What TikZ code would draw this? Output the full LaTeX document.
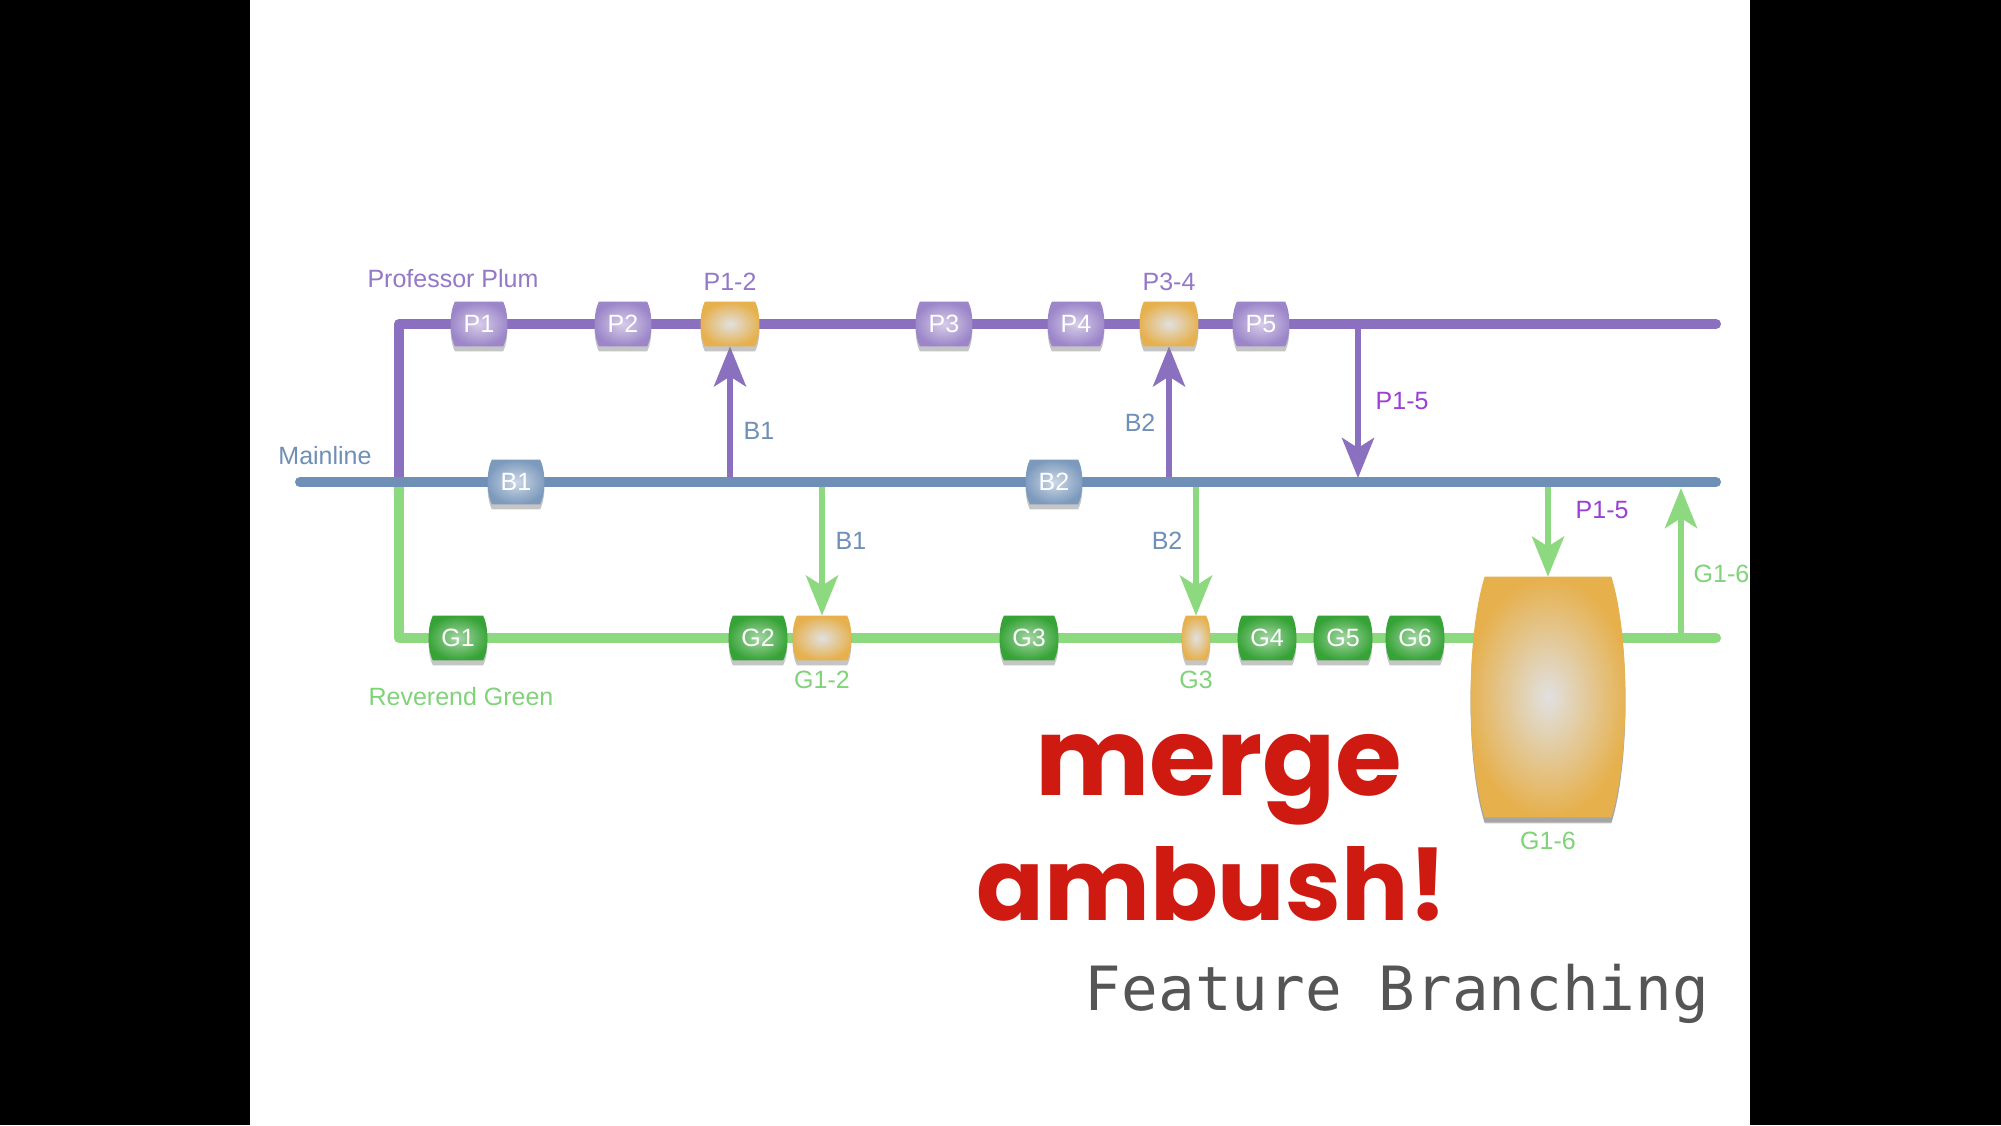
\documentclass[tikz,border=0pt]{standalone}
\usepackage{fontspec}
\setmainfont{Liberation Sans}
\newfontfamily\monofont{DejaVu Sans Mono}
\newfontfamily\chalkfont{Poppins}
\usetikzlibrary{arrows.meta,shadows,backgrounds}
\definecolor{cPlum}{HTML}{8A70BF}
\definecolor{cPlumLbl}{HTML}{9478C8}
\definecolor{cPlumMerge}{HTML}{9B3FD6}
\definecolor{cMain}{HTML}{6E8FB6}
\definecolor{cGreen}{HTML}{8DD97F}
\definecolor{cGreenLbl}{HTML}{80D378}
\definecolor{cGreenDark}{HTML}{36A336}
\definecolor{cOrange}{HTML}{E6B04C}
\definecolor{cChalk}{HTML}{CF1A12}
\definecolor{cCaption}{HTML}{555555}
\newcommand{\lblfont}{\fontsize{12.5}{14}\selectfont}
% barrel-shaped commit: flat top and bottom, sides bulging out
\newdimen\brlx \newdimen\brrx \newdimen\brby \newdimen\brty \newdimen\brb \newdimen\brh
\makeatletter
\pgfdeclareshape{barrel}{
  \inheritsavedanchors[from=rectangle]
  \inheritanchorborder[from=rectangle]
  \inheritanchor[from=rectangle]{center}
  \inheritanchor[from=rectangle]{north}
  \inheritanchor[from=rectangle]{south}
  \inheritanchor[from=rectangle]{east}
  \inheritanchor[from=rectangle]{west}
  \inheritanchor[from=rectangle]{text}
  \inheritanchor[from=rectangle]{base}
  \inheritanchor[from=rectangle]{mid}
  \backgroundpath{
    \southwest \brlx=\pgf@x \brby=\pgf@y
    \northeast \brrx=\pgf@x \brty=\pgf@y
    \brh=\brty \advance\brh by -\brby
    \brb=.05\brh \advance\brb by 1pt
    \pgfpathmoveto{\pgfpoint{\brlx+\brb}{\brby}}
    \pgfpathlineto{\pgfpoint{\brrx-\brb}{\brby}}
    \pgfpathcurveto{\pgfpoint{\brrx+\brb/3}{\brby+.25\brh}}{\pgfpoint{\brrx+\brb/3}{\brty-.25\brh}}{\pgfpoint{\brrx-\brb}{\brty}}
    \pgfpathlineto{\pgfpoint{\brlx+\brb}{\brty}}
    \pgfpathcurveto{\pgfpoint{\brlx-\brb/3}{\brty-.25\brh}}{\pgfpoint{\brlx-\brb/3}{\brby+.25\brh}}{\pgfpoint{\brlx+\brb}{\brby}}
    \pgfpathclose
  }
}
\makeatother
\tikzset{
  commit/.style  ={barrel, minimum width=28pt, minimum height=22pt, inner sep=0pt,
                   text=white, font=\lblfont,
                   drop shadow={shadow xshift=0pt, shadow yshift=-2.5pt, opacity=.45}},
  plum/.style    ={commit, inner color=cPlum!35, outer color=cPlum!85},
  mainc/.style   ={commit, inner color=cMain!35, outer color=cMain!90},
  green/.style   ={commit, minimum width=29pt, inner color=cGreenDark!45, outer color=cGreenDark},
  merged/.style  ={commit, minimum width=29pt, inner color=black!12, outer color=cOrange},
  plumtxt/.style ={text=cPlumLbl, font=\lblfont},
  maintxt/.style ={text=cMain, font=\lblfont},
  greentxt/.style={text=cGreenLbl, font=\lblfont},
  mergetxt/.style={text=cPlumMerge, font=\lblfont},
  chalk/.style   ={text=cChalk, inner sep=0pt, font=\chalkfont\bfseries\fontsize{54}{58}\selectfont},
  plumline/.style ={draw=cPlum, line width=5pt, line cap=round, line join=round},
  mainline/.style ={draw=cMain, line width=5pt, line cap=round},
  greenline/.style={draw=cGreen, line width=5pt, line cap=round, line join=round},
  plumarrow/.style ={draw=cPlum, line width=3pt, -{Stealth[length=20pt,width=16pt,inset=5pt]}},
  greenarrow/.style={draw=cGreen, line width=3pt, -{Stealth[length=20pt,width=16pt,inset=5pt]}},
}

\begin{document}
\begin{tikzpicture}[x=0.5pt,y=-0.5pt]
    % commits
    \node[plum] (P1) at (479,324) {P1};
    \node[plum] (P2) at (623,324) {P2};
    \node[merged, label={[plumtxt,label distance=2pt]above:P1-2}] (P12) at (730,324) {};
    \node[plum] (P3) at (944,324) {P3};
    \node[plum] (P4) at (1076,324) {P4};
    \node[merged, label={[plumtxt,label distance=2pt]above:P3-4}] (P34) at (1169,324) {};
    \node[plum] (P5) at (1261,324) {P5};
    \node[mainc] (B1) at (516,482) {B1};
    \node[mainc] (B2) at (1054,482) {B2};
    \node[green] (G1) at (458,638) {G1};
    \node[green] (G2) at (758,638) {G2};
    \node[merged, label={[greentxt,label distance=2pt]below:G1-2}] (G12) at (822,638) {};
    \node[green] (G3) at (1029,638) {G3};
    \node[merged, minimum width=14pt, label={[greentxt,label distance=2pt]below:G3}] (G3m) at (1196,638) {};
    \node[green] (G4) at (1267,638) {G4};
    \node[green] (G5) at (1343,638) {G5};
    \node[green] (G6) at (1415,638) {G6};
    \node[merged, minimum width=77pt, minimum height=120pt,
          drop shadow={shadow xshift=0pt, shadow yshift=-3pt, opacity=.45},
          label={[greentxt,label distance=4pt]below:G1-6}] (G16) at (1548,697) {};
    % branch names
    \node[plumtxt]  (plumname)  at (453,279) {Professor Plum};
    \node[maintxt]  (mainname)  at (325,456) {Mainline};
    \node[greentxt] (greenname) at (461,697) {Reverend Green};
    % caption
    \node[chalk] (merge)  at (1219,780) {merge};
    \node[chalk, font=\chalkfont\bfseries\fontsize{50}{54}\selectfont] (ambush) at (1212,884) {ambush!};
    \node[text=cCaption, inner sep=0pt, font=\monofont\fontsize{30.5}{34}\selectfont] (title) at (1397,994) {Feature Branching};
    \begin{scope}[on background layer]
      \fill[black] (0,0) rectangle (2001,1125);
      \fill[white] (250,0) rectangle (1750,1125);
      \coordinate (fork) at (399,482);
      \coordinate (plumend) at (1716,324);
      \coordinate (greenend) at (1716,638);
      \draw[plumline] (fork) |- (plumend);
      \draw[greenline] (fork) |- (greenend);
      \draw[plumarrow] (P12.south |- fork) -- (P12.south) node[maintxt, pos=.38, right=2pt] (lB1up) {B1};
      \draw[plumarrow] (P34.south |- fork) -- (P34.south) node[maintxt, pos=.44, left=2pt] (lB2up) {B2};
      \draw[plumarrow] (1358,324) -- (1358,478) node[mergetxt, pos=.5, right=4pt] (lP15a) {P1-5};
      \draw[greenarrow] (G12.north |- fork) -- (G12.north) node[maintxt, pos=.44, right=2pt] (lB1dn) {B1};
      \draw[greenarrow] (G3m.north |- fork) -- (G3m.north) node[maintxt, pos=.44, left=2pt] (lB2dn) {B2};
      \draw[greenarrow] (G16.north |- fork) -- (G16.north) node[mergetxt, pos=.3, right=9pt] (lP15b) {P1-5};
      \draw[greenarrow] (1681,638) -- (1681,488) node[greentxt, pos=.43, right=1.5pt] (lG16) {G1-6};
      \draw[mainline] (300,482) -- (1716,482);
    \end{scope}
  \end{tikzpicture}
\end{document}
